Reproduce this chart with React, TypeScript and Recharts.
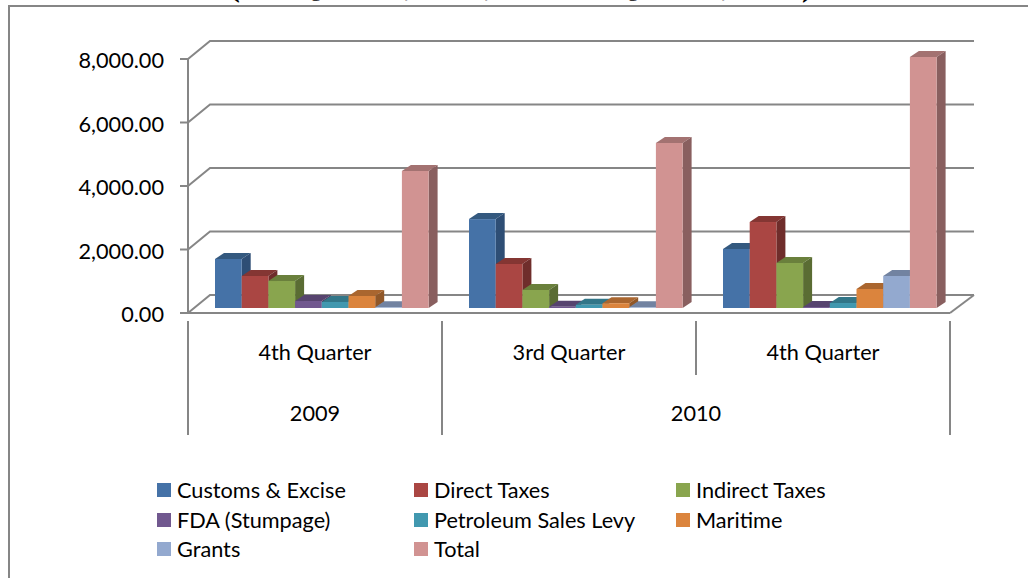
import React from "react";
import { BarChart, Bar, XAxis, YAxis, CartesianGrid, Legend } from "recharts";

const quarters = ["4th Quarter", "3rd Quarter", "4th Quarter"];
const customs = [1543, 2800, 1858];
const direct = [1008, 1386, 2708];
const indirect = [850, 567, 1417];
const fda = [220, 40, 30];
const petroleum = [190, 100, 157];
const maritime = [378, 150, 598];
const grants = [20, 20, 1008];
const total = [4315, 5197, 7905];
const yTicks = [0, 2000, 4000, 6000, 8000];

const rows = quarters.map((quarter, i) => ({
  quarter,
  customs: customs[i],
  direct: direct[i],
  indirect: indirect[i],
  fda: fda[i],
  petroleum: petroleum[i],
  maritime: maritime[i],
  grants: grants[i],
  total: total[i],
}));

const FONT = "Lato, sans-serif";
const SIZE = 21.7;
const AXIS = "#868686";

const seriesList = [
  { key: "customs", name: "Customs & Excise", color: "#4572A7", top: "#34597F", side: "#2E4E75" },
  { key: "direct", name: "Direct Taxes", color: "#AA4643", top: "#843633", side: "#6F2D2B" },
  { key: "indirect", name: "Indirect Taxes", color: "#89A54E", top: "#6A803C", side: "#5A6C33" },
  { key: "fda", name: "FDA (Stumpage)", color: "#71588F", top: "#57446F", side: "#4A3A5E" },
  { key: "petroleum", name: "Petroleum Sales Levy", color: "#4198AF", top: "#327688", side: "#2A6373" },
  { key: "maritime", name: "Maritime", color: "#DB843D", top: "#AA662F", side: "#905728" },
  { key: "grants", name: "Grants", color: "#93A9CF", top: "#7283A1", side: "#607088" },
  { key: "total", name: "Total", color: "#D19392", top: "#A37271", side: "#895F5F" },
];

function Bar3D(props: any) {
  const { x, y, width, height, fill, topFill, sideFill } = props;
  const fx = x + 7;
  const fy = y - 5;
  const r = fx + width;
  const b = fy + height;
  return (
    <g>
      <polygon points={`${fx},${fy} ${fx + 9},${fy - 6} ${r + 9},${fy - 6} ${r},${fy}`} fill={topFill} />
      <polygon points={`${r},${fy} ${r + 9},${fy - 6} ${r + 9},${b - 6} ${r},${b}`} fill={sideFill} />
      <rect x={fx} y={fy} width={width} height={height} fill={fill} />
    </g>
  );
}

function WallLine(props: any) {
  const { x1, y1, x2 } = props;
  const isFloor = Math.abs(y1 - 313) < 1;
  const pts = `${x1},${y1} ${x1 + 22},${y1 - 18} ${x2 + 24},${y1 - 18}`;
  return (
    <g>
      <polyline points={pts} fill="none" stroke={AXIS} strokeWidth={2} />
      {isFloor && <line x1={x2 + 24} y1={y1 - 18} x2={x2} y2={y1} stroke={AXIS} strokeWidth={2} />}
    </g>
  );
}

function CategoryTick(props: any) {
  const { x, y, payload, index } = props;
  const band = 254;
  const left = x - band / 2;
  const right = x + band / 2;
  const top = y;
  return (
    <g>
      <text x={x} y={352} textAnchor="middle" dominantBaseline="central" fontFamily={FONT} fontSize={SIZE} fill="#000">
        {payload.value}
      </text>
      {index === 0 && (
        <>
          <line x1={left} y1={top} x2={left} y2={435} stroke={AXIS} strokeWidth={2} />
          <line x1={right} y1={top} x2={right} y2={435} stroke={AXIS} strokeWidth={2} />
          <text x={x} y={413} textAnchor="middle" dominantBaseline="central" fontFamily={FONT} fontSize={SIZE} fill="#000">
            2009
          </text>
        </>
      )}
      {index === 1 && (
        <>
          <line x1={right} y1={top} x2={right} y2={375} stroke={AXIS} strokeWidth={2} />
          <text x={right} y={413} textAnchor="middle" dominantBaseline="central" fontFamily={FONT} fontSize={SIZE} fill="#000">
            2010
          </text>
        </>
      )}
      {index === 2 && <line x1={right} y1={top} x2={right} y2={435} stroke={AXIS} strokeWidth={2} />}
    </g>
  );
}

function ValueTick(props: any) {
  const { x, y, payload } = props;
  const label = Number(payload.value).toLocaleString("en-US", { minimumFractionDigits: 2, maximumFractionDigits: 2 });
  return (
    <text x={x} y={y + 1} textAnchor="end" dominantBaseline="central" fontFamily={FONT} fontSize={SIZE} fill="#000">
      {label}
    </text>
  );
}

function LegendBox(props: any) {
  const items = props.payload || [];
  const cols = [157, 414, 676];
  const rowsY = [477, 507, 536];
  return (
    <div style={{ position: "relative", width: 1028, height: 100 }}>
      {items.map((item: any, i: number) => (
        <div
          key={item.value}
          style={{
            position: "absolute",
            left: cols[i % 3],
            top: rowsY[Math.floor(i / 3)] - 477,
            height: 26,
            display: "flex",
            alignItems: "center",
            fontFamily: FONT,
            fontSize: SIZE,
            color: "#000",
            whiteSpace: "nowrap",
          }}
        >
          <span style={{ width: 14, height: 14, background: item.color, marginRight: 6, display: "inline-block" }} />
          {item.value}
        </div>
      ))}
    </div>
  );
}

export default function App() {
  return (
    <div style={{ position: "absolute", left: 0, top: 0, width: 1028, height: 578, overflow: "hidden", background: "#fff" }}>
      <BarChart
        width={1028}
        height={578}
        data={rows}
        margin={{ top: 59, right: 78, bottom: 135, left: 0 }}
        barSize={26.7}
        barGap={0}
      >
        <CartesianGrid vertical={false} horizontal={(p: any) => <WallLine key={p.key} {...p} />} stroke={AXIS} />
        <XAxis
          dataKey="quarter"
          height={130}
          interval={0}
          tickLine={false}
          axisLine={{ stroke: AXIS, strokeWidth: 2 }}
          tick={(p: any) => <CategoryTick {...p} />}
        />
        <YAxis
          width={188}
          domain={[0, 8000]}
          ticks={yTicks}
          interval={0}
          tickSize={8}
          tickMargin={16}
          axisLine={{ stroke: AXIS, strokeWidth: 2 }}
          tickLine={{ stroke: AXIS, strokeWidth: 2 }}
          tick={(p: any) => <ValueTick {...p} />}
        />
        <Legend
          layout="horizontal"
          verticalAlign="middle"
          align="center"
          itemSorter={null}
          content={(p: any) => <LegendBox {...p} />}
          wrapperStyle={{ position: "absolute", left: 0, top: 477, width: 1028, height: 100 }}
        />
        {seriesList.map((s) => (
          <Bar
            key={s.key}
            dataKey={s.key}
            name={s.name}
            fill={s.color}
            isAnimationActive={false}
            shape={(p: any) => <Bar3D {...p} fill={s.color} topFill={s.top} sideFill={s.side} />}
          />
        ))}
      </BarChart>
      <svg width={1028} height={6} style={{ position: "absolute", left: 0, top: 0 }}>
        <text x={521} y={-4} textAnchor="middle" fontFamily="'Liberation Serif', serif" fontWeight="bold" fontSize={32} fill="#000">
          (3rd Quarter, 2010, and 4th Quarter, 2010)
        </text>
      </svg>
      <div style={{ position: "absolute", left: 8, top: 5, width: 1020, height: 573, borderLeft: `2px solid ${AXIS}`, borderTop: `2px solid ${AXIS}`, boxSizing: "border-box", pointerEvents: "none" }} />
    </div>
  );
}
